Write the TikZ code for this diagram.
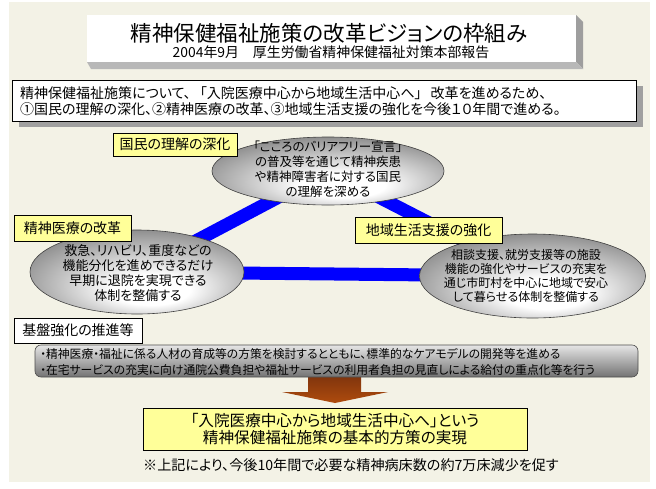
\documentclass[tikz,border=0pt]{standalone}
\usepackage{fontspec}
\setmainfont{Noto Sans CJK JP}[RawFeature={+palt}]
\usetikzlibrary{shapes.geometric}
\definecolor{beige}{RGB}{243,242,230}
\definecolor{lblyellow}{RGB}{255,255,153}
\definecolor{bandblue}{RGB}{0,0,255}
\definecolor{arrowbrown}{RGB}{160,66,16}
\definecolor{shadowgray}{RGB}{160,160,160}
\pgfdeclareradialshading{ellsh}{\pgfpoint{4bp}{-13bp}}{color(0bp)=(white);color(9bp)=(white);color(38bp)=(black!60);color(50bp)=(black!60)}
\begin{document}
\begin{tikzpicture}[x=1pt,y=-1pt,
  lbl/.style={draw=black,line width=0.8pt,fill=lblyellow,inner sep=0pt,font=\fontsize{14}{16}\selectfont},
  ell/.style={ellipse,draw=black!75,line width=0.6pt,shading=ellsh,inner sep=0pt},
  elltext/.style={align=center,font=\fontsize{13}{15}\selectfont,inner sep=0pt},
  band/.style={line width=13pt,draw=bandblue},
  plain/.style={inner sep=0pt}]
\useasboundingbox (0,0) rectangle (656,488);
\fill[white] (0,0) rectangle (656,488);
\fill[beige] (9,2) rectangle (650,482);
% title
\fill[black!38] (576,15) -- (583,22) -- (583,69) -- (576,62) -- cycle;
\fill[black!28] (87,62) -- (576,62) -- (583,69) -- (91,69) -- cycle;
\node[fill=white,minimum width=489pt,minimum height=47pt,inner sep=0pt] (titlebox) at (331.5,38.5) {};
\node[plain,font=\fontsize{21.5}{23}\selectfont] (title) at (329,33) {精神保健福祉施策の改革ビジョンの枠組み};
\node[plain,font=\fontsize{13.9}{15}\selectfont] (subtitle) at (331,52.5) {2004年9月\quad 厚生労働省精神保健福祉対策本部報告};
% intro
\fill[shadowgray] (19,86) rectangle (643,127);
\node[draw=black,line width=0.8pt,fill=white,minimum width=624pt,minimum height=41pt,inner sep=0pt] (intro) at (324,100.5) {};
\node[plain,anchor=west,font=\fontsize{14}{16}\selectfont] (introA) at (20,93) {精神保健福祉施策について、\hspace{9pt}「入院医療中心から地域生活中心へ」\hspace{9pt}改革を進めるため、};
\node[plain,anchor=west,font=\fontsize{14}{16}\selectfont] (introB) at (20,109) {①国民の理解の深化、②精神医療の改革、③地域生活支援の強化を今後１０年間で進める。};
% bands
\coordinate (ctop) at (328,171);
\coordinate (cleft) at (137,272);
\coordinate (cright) at (532.5,276);
\draw[band] (ctop) -- (cleft) -- (cright) -- cycle;
% ellipses
\node[ell,minimum width=232pt,minimum height=68pt] (elltop) at (ctop) {};
\node[ell,minimum width=214pt,minimum height=84pt] (ellleft) at (cleft) {};
\node[ell,minimum width=226pt,minimum height=84pt] (ellright) at (cright) {};
\node[elltext,font=\fontsize{12.5}{15}\selectfont] (ttop) at (328,169) {「こころのバリアフリー宣言」\\の普及等を通じて精神疾患\\や精神障害者に対する国民\\の理解を深める};
\node[elltext] (tleft) at (138,273) {救急、リハビリ、重度などの\\機能分化を進めできるだけ\\早期に退院を実現できる\\体制を整備する};
\node[elltext,font=\fontsize{12}{14}\selectfont] (tright) at (526,276) {相談支援、就労支援等の施設\\機能の強化やサービスの充実を\\通じ市町村を中心に地域で安心\\して暮らせる体制を整備する};
% labels
\node[lbl,minimum width=124pt,minimum height=23pt] (lblA) at (175,144.5) {国民の理解の深化};
\node[lbl,minimum width=117pt,minimum height=26pt] (lblB) at (72.5,228) {精神医療の改革};
\node[lbl,minimum width=147pt,minimum height=26pt] (lblC) at (428.5,230) {地域生活支援の強化};
\node[lbl,fill=white,minimum width=128pt,minimum height=25pt] (lblD) at (78,330.5) {基盤強化の推進等};
% arrow
\shade[top color=arrowbrown!80!black,bottom color=arrowbrown!85!orange] (308,376) -- (361,376) -- (361,392) -- (388,392) -- (335,403) -- (282,392) -- (308,392) -- cycle;
% gray bar
\node[draw=black!70,line width=0.6pt,rounded corners=6pt,minimum width=603pt,minimum height=32pt,inner sep=0pt,top color=black!10,bottom color=black!55] (bar) at (336.5,361) {};
\node[plain,anchor=west,font=\fontsize{11.8}{14}\selectfont] (barA) at (40,354) {・精神医療・福祉に係る人材の育成等の方策を検討するとともに、標準的なケアモデルの開発等を進める};
\node[plain,anchor=west,font=\fontsize{11.8}{14}\selectfont] (barB) at (40,370) {・在宅サービスの充実に向け通院公費負担や福祉サービスの利用者負担の見直しによる給付の重点化等を行う};
% result
\node[draw=black,line width=0.8pt,fill=lblyellow,minimum width=384pt,minimum height=42pt,inner sep=0pt] (result) at (335,429) {};
\node[plain,font=\fontsize{15.6}{17}\selectfont] (resA) at (335,421) {「入院医療中心から地域生活中心へ」という};
\node[plain,font=\fontsize{15.6}{17}\selectfont] (resB) at (335,438) {精神保健福祉施策の基本的方策の実現};
\node[plain,anchor=west,font=\fontsize{14.1}{15}\selectfont] (note) at (143,465) {※上記により、今後10年間で必要な精神病床数の約7万床減少を促す};
\end{tikzpicture}
\end{document}
